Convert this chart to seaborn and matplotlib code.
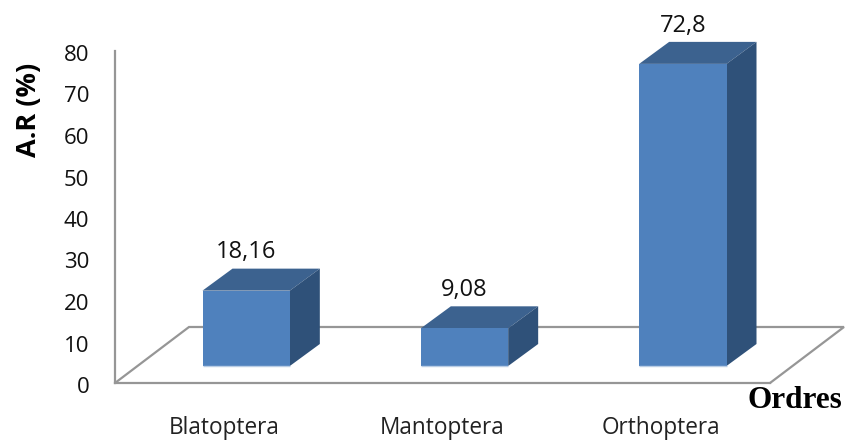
import matplotlib
matplotlib.use("Agg")
import matplotlib.pyplot as plt
from matplotlib.patches import Polygon
from matplotlib.transforms import Affine2D
import pandas as pd
import seaborn as sns

categories = ["Blatoptera", "Mantoptera", "Orthoptera"]
values = [18.16, 9.08, 72.8]
value_labels = ["18,16", "9,08", "72,8"]
y_ticks = [0, 10, 20, 30, 40, 50, 60, 70, 80]
x_title = "Ordres"
y_title = "A.R (%)"

W, H = 848, 442
LEFT, RIGHT, TOP, BOTTOM = 115, 770, 51, 383
FRONT = "#4F81BD"
TOPC = "#3C628F"
SIDE = "#2F5179"
GREY = "#969696"

sns.set_theme(style="white")
plt.rcParams["font.family"] = ["Open Sans", "DejaVu Sans"]

fig = plt.figure(figsize=(W / 100, H / 100), dpi=100, facecolor="white")
ax = fig.add_axes([LEFT / W, 1 - BOTTOM / H, (RIGHT - LEFT) / W, (BOTTOM - TOP) / H])
df = pd.DataFrame({"ordre": categories, "ar": values})
sns.barplot(data=df, x="ordre", y="ar", color=FRONT, saturation=1, width=0.4, ax=ax, zorder=3)
ax.set_xlim(-0.5, 2.5)
ax.set_ylim(0, 80)
ax.set_yticks(y_ticks)
ax.tick_params(axis="y", length=0, pad=18.5, labelsize=16, labelcolor="#111111")
ax.tick_params(axis="x", length=0, pad=24, labelsize=16.3, labelcolor="#222222")
ax.patch.set_alpha(0)
for s in ("top", "right"):
    ax.spines[s].set_visible(False)
for s in ("left", "bottom"):
    ax.spines[s].set_color(GREY)
    ax.spines[s].set_linewidth(1.6)
for lbl in ax.get_yticklabels():
    lbl.set_transform(lbl.get_transform() + Affine2D().translate(0, -2))

ax.set_ylabel(y_title, fontsize=19.5, fontweight="bold", color="black", va="center",
              family=["Open Sans", "DejaVu Sans"])
ax.yaxis.set_label_coords((29 - LEFT) / (RIGHT - LEFT), (BOTTOM - 110) / (BOTTOM - TOP))
ax.set_xlabel(x_title, fontsize=22.5, fontweight="bold", color="black", va="center", ha="center",
              family=["Liberation Serif", "DejaVu Serif"])
ax.xaxis.set_label_coords((795 - LEFT) / (RIGHT - LEFT), (BOTTOM - 401) / (BOTTOM - TOP))

# depth offsets, in pixels
front = ax.transData + Affine2D().translate(22, 17)
back = ax.transData + Affine2D().translate(52, 39)
wall = ax.transData + Affine2D().translate(74, 56)

x0, x1 = ax.get_xlim()
floor = [
    ax.transData.transform((x0, 0)),
    wall.transform((x0, 0)),
    wall.transform((x1, 0)),
    ax.transData.transform((x1, 0)),
]
xs, ys = zip(*floor)
ax.plot(xs, ys, transform=None, color=GREY, lw=1.6, clip_on=False, zorder=1, solid_joinstyle="miter")

for bar, lab in zip(ax.patches, value_labels):
    bx0, bx1, h = bar.get_x(), bar.get_x() + bar.get_width(), bar.get_height()
    bar.set_transform(front)
    bar.set_clip_on(False)
    bar.set_linewidth(0)
    f = lambda p: front.transform(p)
    b = lambda p: back.transform(p)
    top = Polygon([f((bx0, h)), b((bx0, h)), b((bx1, h)), f((bx1, h))], closed=True,
                  transform=None, fc=TOPC, ec="none", zorder=2, clip_on=False)
    side = Polygon([f((bx1, 0)), b((bx1, 0)), b((bx1, h)), f((bx1, h))], closed=True,
                   transform=None, fc=SIDE, ec="none", zorder=2, clip_on=False)
    ax.add_artist(top)
    ax.add_artist(side)
    ax.plot([bx0, bx1], [0, 0], transform=front, color="#B9CDE5", lw=1.0, clip_on=False,
            zorder=4, solid_capstyle="butt")
    ax.annotate(lab, xy=((bx0 + bx1) / 2, h), xycoords=front, xytext=(0, 27.5),
                textcoords="offset points", ha="center", va="center", fontsize=17,
                color="#111111", annotation_clip=False)

ax.set_xlim(x0, x1)
ax.set_ylim(0, 80)
fig.savefig("out.png", dpi=100, facecolor="white")
